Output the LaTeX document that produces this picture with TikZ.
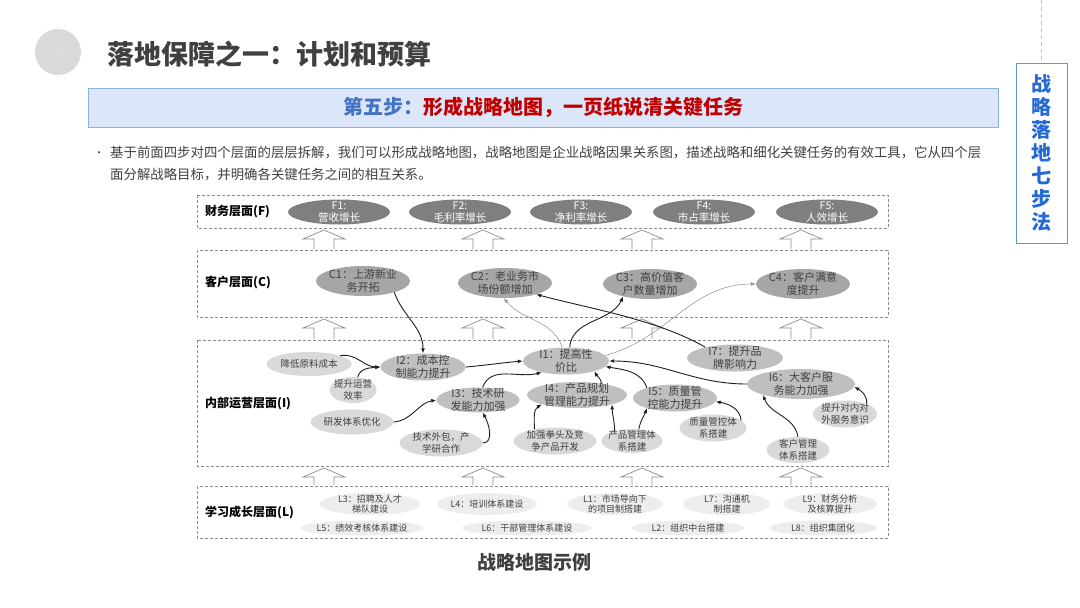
\documentclass[tikz,border=0pt]{standalone}
\usepackage{fontspec}
\setmainfont{Noto Sans CJK SC}
\usetikzlibrary{shapes.geometric, arrows.meta}
\definecolor{mapInk}{HTML}{404040}
\definecolor{mapFin}{HTML}{7f7f7f}
\definecolor{mapCus}{HTML}{a6a6a6}
\definecolor{mapInt}{HTML}{bfbfbf}
\definecolor{mapSub}{HTML}{d9d9d9}
\definecolor{mapLrn}{HTML}{ededed}
\definecolor{mapEdge}{HTML}{8c8c8c}
\definecolor{mapLink}{HTML}{1f1f1f}
\definecolor{mapFaint}{HTML}{9a9a9a}
\definecolor{stepFill}{HTML}{dbe6f8}
\definecolor{stepLine}{HTML}{8cb0e6}
\definecolor{stepBlue}{HTML}{4472c4}
\definecolor{stepRed}{HTML}{c00000}
\definecolor{sideLine}{HTML}{5b9bd5}
\definecolor{sideBlue}{HTML}{2469d4}
\definecolor{sideDash}{HTML}{a9c4eb}

\begin{document}
\begin{tikzpicture}[x=1pt, y=-1pt,
        tierbox/.style={draw=mapEdge, dash pattern=on 3pt off 2pt, line width=0.7pt},
        lift/.style={draw=mapEdge, fill=white, line width=0.7pt},
        tierlbl/.style={anchor=west, inner sep=0pt, text=black, font=\fontsize{12}{14}\selectfont\bfseries},
        finobj/.style={ellipse, fill=mapFin, text=white, align=center, inner xsep=-4pt, inner ysep=-3pt,
                       font=\fontsize{10.5}{12.5}\selectfont, minimum width=102, minimum height=25},
        cusobj/.style={ellipse, fill=mapCus, text=mapInk, align=center, inner xsep=-4pt, inner ysep=-3pt,
                       font=\fontsize{11}{13}\selectfont, minimum width=94, minimum height=30},
        intobj/.style={ellipse, fill=mapInt, text=mapInk, align=center, inner xsep=-4pt, inner ysep=-3pt,
                       font=\fontsize{11}{12.5}\selectfont, minimum width=86, minimum height=27},
        subobj/.style={ellipse, fill=mapSub, text=mapInk, align=center, inner xsep=-4pt, inner ysep=-3pt,
                       font=\fontsize{9.5}{11.5}\selectfont, minimum width=83, minimum height=26},
        lrnobj/.style={ellipse, fill=mapLrn, text=mapInk, align=center, inner xsep=-4pt, inner ysep=-3pt,
                       font=\fontsize{9}{10.5}\selectfont, minimum width=98, minimum height=22},
        lrnflat/.style={lrnobj, minimum width=123, minimum height=15},
        link/.style={-{Latex[length=5pt,width=4pt]}, draw=mapLink, line width=0.9pt},
        faint/.style={-{Latex[length=5pt,width=4pt]}, draw=mapFaint, line width=0.6pt}]
  \useasboundingbox[fill=white] (0,0) rectangle (1080,608);

  % header
  \node[circle, fill=mapSub, minimum size=46, inner sep=0pt, text=white!88!black,
        font=\fontsize{14}{14}\selectfont] (num) at (58,52) {06};
  \node[anchor=west, inner sep=0pt, text=mapInk, font=\fontsize{27}{30}\selectfont\bfseries]
        (title) at (107,54) {落地保障之一：计划和预算};
  \node[draw=stepLine, fill=stepFill, line width=0.9pt, minimum width=910, minimum height=39,
        inner sep=0pt, font=\fontsize{20}{24}\selectfont\bfseries] (stepbar) at (543,107.5)
        {\textcolor{stepBlue}{第五步：}\textcolor{stepRed}{形成战略地图，一页纸说清关键任务}};
  \coordinate (sidetop) at (1041.5,0);
  \node[draw=sideLine, fill=white, line width=0.9pt, minimum width=51, minimum height=180,
        inner sep=0pt, align=center, text=sideBlue, font=\fontsize{20}{23}\selectfont\bfseries]
        (side) at (1041.5,153) {战\\略\\落\\地\\七\\步\\法};
  \draw[sideDash, dash pattern=on 4pt off 3pt, line width=0.8pt] (sidetop) -- (side.north);

  % intro text
  \node[inner sep=0pt, text=mapInk, font=\fontsize{10}{10}\selectfont] (dot) at (99,154) {•};
  \node[anchor=west, align=left, inner sep=0pt, text=mapInk, font=\fontsize{13.4}{22}\selectfont]
        (intro) at (110,164) {基于前面四步对四个层面的层层拆解，我们可以形成战略地图，战略地图是企业战略因果关系图，描述战略和细化关键任务的有效工具，它从四个层\\面分解战略目标，并明确各关键任务之间的相互关系。};

  % layers
  \draw[tierbox] (197,195) rectangle (888,228);
  \draw[tierbox] (197,250) rectangle (888,317);
  \draw[tierbox] (197,340) rectangle (888,466);
  \draw[tierbox] (197,486) rectangle (888,538);
  \foreach \yt/\yb in {230/249, 319/339, 468/485}
    \foreach \ax in {324,483,642,801}
      \draw[lift] ({\ax-10},\yb) -- ({\ax-10},{\yt+9}) -- ({\ax-21},{\yt+9}) -- (\ax,\yt)
                  -- ({\ax+21},{\yt+9}) -- ({\ax+10},{\yt+9}) -- ({\ax+10},\yb);

  \node[tierlbl] (tf) at (205,212) {财务层面(F)};
  \node[tierlbl] (tc) at (205,283) {客户层面(C)};
  \node[tierlbl] (ti) at (205,404) {内部运营层面(I)};
  \node[tierlbl] (tl) at (205,512) {学习成长层面(L)};

  % finance
  \node[finobj] (f1) at (339,212) {F1:\\营收增长};
  \node[finobj] (f2) at (460,212) {F2:\\毛利率增长};
  \node[finobj] (f3) at (581,212) {F3:\\净利率增长};
  \node[finobj] (f4) at (704,212) {F4:\\市占率增长};
  \node[finobj] (f5) at (827,212) {F5:\\人效增长};

  % customer
  \node[cusobj] (c1) at (363,281) {C1：上游新业\\务开拓};
  \node[cusobj] (c2) at (505,283) {C2：老业务市\\场份额增加};
  \node[cusobj] (c3) at (650,284) {C3：高价值客\\户数量增加};
  \node[cusobj] (c4) at (803,284) {C4：客户满意\\度提升};

  % internal
  \node[intobj] (i1) at (566,361) {I1：提高性\\价比};
  \node[intobj, minimum width=85] (i2) at (423,367) {I2：成本控\\制能力提升};
  \node[intobj, minimum width=83, minimum height=25] (i3) at (478,400) {I3：技术研\\发能力加强};
  \node[intobj, minimum width=100, minimum height=26] (i4) at (577,395) {I4：产品规划\\管理能力提升};
  \node[intobj, minimum width=84] (i5) at (675,398) {I5：质量管\\控能力提升};
  \node[intobj, minimum width=108, minimum height=30] (i6) at (801,384) {I6：大客户服\\务能力加强};
  \node[intobj, minimum width=96] (i7) at (735,358) {I7：提升品\\牌影响力};

  \node[subobj, minimum width=85, minimum height=24] (lowcost) at (309,364) {降低原料成本};
  \node[subobj, minimum width=47] (opseff) at (353,390) {提升运营\\效率};
  \node[subobj, minimum height=25] (rdsys) at (352,422) {研发体系优化};
  \node[subobj, minimum height=27] (techout) at (441,443) {技术外包，产\\学研合作};
  \node[subobj, minimum height=27] (flagship) at (555,441) {加强拳头及竞\\争产品开发};
  \node[subobj, minimum width=61, minimum height=24] (prodsys) at (632,441) {产品管理体\\系搭建};
  \node[subobj, minimum width=67, minimum height=27] (qualsys) at (713,428) {质量管控体\\系搭建};
  \node[subobj, minimum width=63] (custsys) at (798,450) {客户管理\\体系搭建};
  \node[subobj, minimum width=64, minimum height=27] (svcmind) at (845,414) {提升对内对\\外服务意识};

  % learning
  \node[lrnobj, minimum width=100] (l3) at (370,504) {L3：招聘及人才\\梯队建设};
  \node[lrnobj, minimum width=100] (l4) at (487,504) {L4：培训体系建设};
  \node[lrnobj, minimum width=96] (l1) at (615,504) {L1：市场导向下\\的项目制搭建};
  \node[lrnobj, minimum width=87] (l7) at (727,504) {L7：沟通机\\制搭建};
  \node[lrnobj, minimum width=94] (l9) at (830,504) {L9：财务分析\\及核算提升};
  \node[lrnflat] (l5) at (362,528) {L5：绩效考核体系建设};
  \node[lrnflat, minimum width=130] (l6) at (527,528) {L6：干部管理体系建设};
  \node[lrnflat, minimum width=113] (l2) at (688,528) {L2：组织中台搭建};
  \node[lrnflat, minimum width=107] (l8) at (823,528) {L8：组织集团化};

  % cause and effect
  \draw[link] (c1.-20) to[out=-70,in=90] (i2.north);
  \draw[link] (lowcost.15) to[out=10,in=180] (i2.west);
  \draw[link] (opseff.70) to[out=75,in=185] (i2.west);
  \draw[link] (i2.east) to[out=5,in=185] (i1.west);
  \draw[link] (i3.70) to[out=70,in=195] (i1.205);
  \draw[link] (rdsys.east) to[out=5,in=190] (i3.west);
  \draw[link] (techout.east) to[out=0,in=-60] (i3.-70);
  \draw[faint] (i1.105) to[out=110,in=-50] (c2.-95);
  \draw[link] (i1.75) to[out=85,in=-115] (c3.-155);
  \draw[faint] (i1.8) to[out=15,in=180] (c4.west);
  \draw[link] (i7.160) to[out=150,in=-15,looseness=0.8] (c2.-20);
  \draw[link] (i6.west) to[out=180,in=0] (i1.east);
  \draw[link] (i5.160) to[out=110,in=-10] (i1.-8);
  \draw[link] (i4.25) to[out=100,in=-60] (i1.-20);
  \draw[link] (flagship.150) to[out=90,in=-150] (i4.-165);
  \draw[link] (prodsys.150) to[out=90,in=-90] (i4.-15);
  \draw[link] (prodsys.60) to[out=80,in=-110] (i5.-160);
  \draw[link] (qualsys.15) to[out=95,in=-10] (i5.-5);
  \draw[link] (custsys.north) to[out=100,in=-70] (i6.-164);
  \draw[link] (svcmind.25) to[out=85,in=-30] (i6.-3);

  \node[text=mapInk, font=\fontsize{19}{22}\selectfont\bfseries] (caption) at (534,562) {战略地图示例};
\end{tikzpicture}
\end{document}
